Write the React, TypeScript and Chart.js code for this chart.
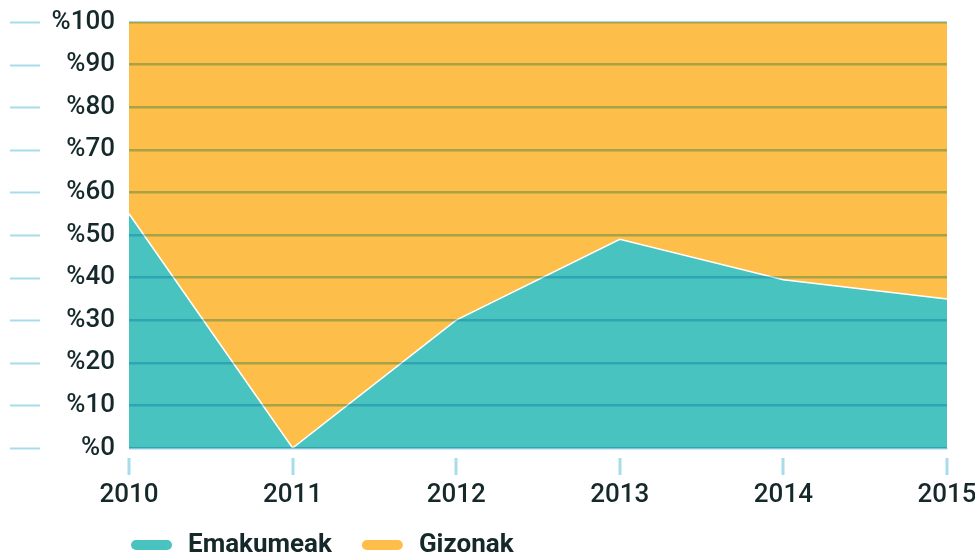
import React, { useEffect, useRef } from "react";
import { Chart, registerables } from "chart.js";

Chart.register(...registerables);

const years = ["2010", "2011", "2012", "2013", "2014", "2015"];
const emakumeak = [55, 0, 30, 49, 39.5, 35];
const gizonak = [45, 100, 70, 51, 60.5, 65];
const seriesNames = ["Emakumeak", "Gizonak"];
const seriesColors = ["#49C3C0", "#FDBF4A"];

const FONT = "Roboto, 'Noto Sans', sans-serif";

const decor = {
  id: "decor",
  afterDatasetsDraw(chart: any) {
    chart.ctx.save();
    chart.ctx.globalCompositeOperation = "multiply";
  },
  afterDraw(chart: any) {
    const ctx = chart.ctx;
    ctx.restore();
    const area = chart.chartArea;
    const ys = chart.scales.y;
    const xs = chart.scales.x;
    ctx.save();
    ctx.strokeStyle = "#A9DCEA";
    ctx.lineWidth = 2;
    ys.ticks.forEach((_t: any, i: number) => {
      const py = Math.round(ys.getPixelForTick(i)) + 0.5;
      ctx.beginPath();
      ctx.moveTo(10, py);
      ctx.lineTo(40, py);
      ctx.stroke();
    });
    ctx.lineWidth = 3;
    xs.ticks.forEach((_t: any, i: number) => {
      const px = Math.round(xs.getPixelForTick(i));
      ctx.beginPath();
      ctx.moveTo(px, area.bottom + 10);
      ctx.lineTo(px, area.bottom + 27);
      ctx.stroke();
    });
    // legend
    ctx.font = "bold 26px " + FONT;
    ctx.textBaseline = "alphabetic";
    ctx.textAlign = "left";
    let cx = area.left + 2;
    chart.data.datasets.forEach((ds: any) => {
      ctx.fillStyle = ds.backgroundColor;
      ctx.beginPath();
      (ctx as any).roundRect(cx, 540, 41, 10, 5);
      ctx.fill();
      ctx.fillStyle = "#15282A";
      ctx.fillText(ds.label, cx + 57, 552);
      cx += 57 + ctx.measureText(ds.label).width + 30;
    });
    ctx.restore();
  },
};

export default function App() {
  const ref = useRef<HTMLCanvasElement>(null);
  useEffect(() => {
    const chart = new Chart(ref.current as HTMLCanvasElement, {
      type: "line",
      data: {
        labels: years,
        datasets: [
          {
            label: seriesNames[0],
            data: emakumeak,
            backgroundColor: seriesColors[0],
            borderColor: "#FFFFFF",
            borderWidth: 1.5,
            fill: "origin",
            pointRadius: 0,
            tension: 0,
          },
          {
            label: seriesNames[1],
            data: gizonak,
            backgroundColor: seriesColors[1],
            borderColor: "rgba(0,0,0,0)",
            borderWidth: 0,
            fill: "-1",
            pointRadius: 0,
            tension: 0,
          },
        ],
      },
      options: {
        responsive: false,
        animation: false,
        layout: { padding: { top: 22, right: 28, bottom: 40, left: 0 } },
        plugins: { legend: { display: false }, tooltip: { enabled: false } },
        scales: {
          x: {
            type: "category",
            offset: false,
            grid: { display: false, drawTicks: false },
            border: { display: true, color: "#C4E7EF", width: 1 },
            ticks: {
              padding: 32,
              color: "#15282A",
              font: { family: FONT, size: 26, weight: "500" },
              maxRotation: 0,
            },
            afterFit: (s: any) => {
              s.height = 65;
              s.paddingLeft = 0;
              s.paddingRight = 0;
            },
          },
          y: {
            stacked: true,
            min: 0,
            max: 100,
            grid: {
              z: 1,
              color: "#A8D8EC",
              lineWidth: 2.5,
              drawTicks: false,
            },
            border: { display: false },
            ticks: {
              stepSize: 10,
              padding: 14,
              color: "#15282A",
              font: { family: FONT, size: 26, weight: "500" },
              callback: (v: any) => "%" + v,
            },
            afterFit: (s: any) => {
              s.width = 129;
              s.paddingTop = 0;
              s.paddingBottom = 0;
            },
          },
        },
      },
      plugins: [decor],
    });
    return () => chart.destroy();
  }, []);
  return (
    <div style={{ position: "absolute", left: 0, top: 0, width: 975, height: 553 }}>
      <canvas ref={ref} width={975} height={553} />
    </div>
  );
}
